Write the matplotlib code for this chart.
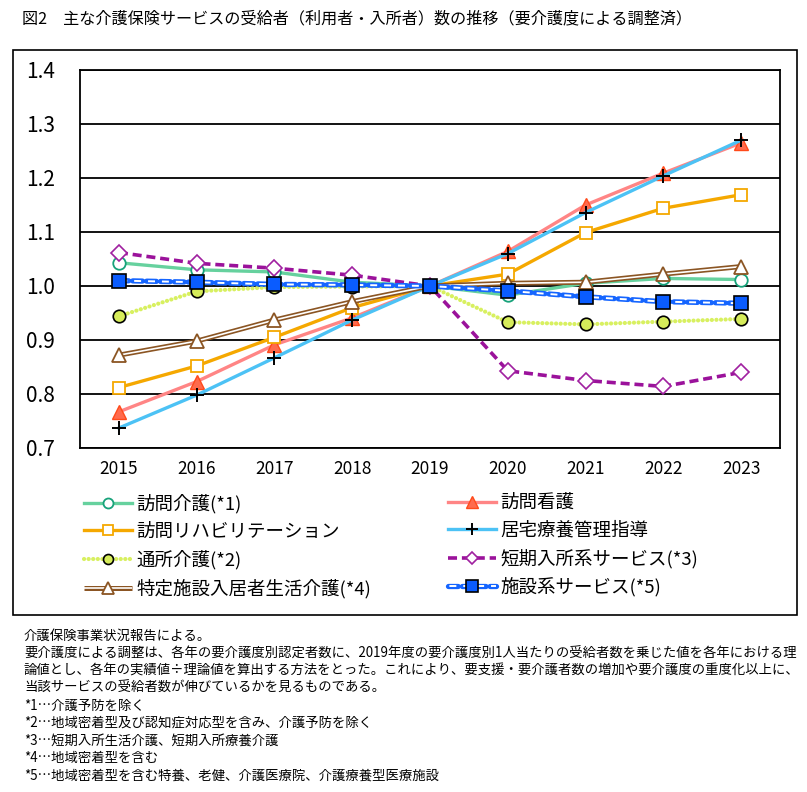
import matplotlib
matplotlib.use("Agg")
import matplotlib.pyplot as plt
from matplotlib.patches import Rectangle
from matplotlib.legend_handler import HandlerTuple

plt.rcParams['font.family'] = ['Noto Sans CJK JP', 'DejaVu Sans']
plt.rcParams['lines.scale_dashes'] = False

# data
years = [2015, 2016, 2017, 2018, 2019, 2020, 2021, 2022, 2023]
houmon_kaigo = [1.043, 1.030, 1.026, 1.007, 1.000, 0.983, 1.005, 1.014, 1.012]
houmon_kango = [0.767, 0.823, 0.891, 0.941, 1.000, 1.064, 1.150, 1.209, 1.265]
houmon_reha = [0.812, 0.852, 0.905, 0.960, 1.000, 1.022, 1.099, 1.144, 1.169]
kyotaku_ryouyou = [0.737, 0.798, 0.867, 0.937, 1.000, 1.060, 1.136, 1.204, 1.270]
tsusho_kaigo = [0.944, 0.990, 0.998, 0.999, 1.000, 0.933, 0.929, 0.934, 0.939]
tanki_nyusho = [1.062, 1.042, 1.033, 1.020, 1.000, 0.843, 0.825, 0.814, 0.840]
tokutei_shisetsu = [0.872, 0.898, 0.937, 0.971, 1.000, 1.005, 1.007, 1.022, 1.036]
shisetsu_kei = [1.010, 1.007, 1.003, 1.002, 1.000, 0.991, 0.980, 0.971, 0.968]

labels = ['訪問介護(*1)', '訪問看護', '訪問リハビリテーション', '居宅療養管理指導',
          '通所介護(*2)', '短期入所系サービス(*3)', '特定施設入居者生活介護(*4)', '施設系サービス(*5)']
yticks = [0.7, 0.8, 0.9, 1.0, 1.1, 1.2, 1.3, 1.4]

title = '図2　主な介護保険サービスの受給者（利用者・入所者）数の推移（要介護度による調整済）'
notes = [
    '介護保険事業状況報告による。',
    '要介護度による調整は、各年の要介護度別認定者数に、2019年度の要介護度別1人当たりの受給者数を乗じた値を各年における理',
    '論値とし、各年の実績値÷理論値を算出する方法をとった。これにより、要支援・要介護者数の増加や要介護度の重度化以上に、',
    '当該サービスの受給者数が伸びているかを見るものである。',
    '*1…介護予防を除く',
    '*2…地域密着型及び認知症対応型を含み、介護予防を除く',
    '*3…短期入所生活介護、短期入所療養介護',
    '*4…地域密着型を含む',
    '*5…地域密着型を含む特養、老健、介護医療院、介護療養型医療施設',
]

W, H = 807, 792
fig = plt.figure(figsize=(W / 100, H / 100), dpi=100)
ax = fig.add_axes([80 / W, 1 - 448 / H, 700 / W, 378 / H])

lw = 2.4
ms = 9
h = {}

h[0] = ax.plot(years, houmon_kaigo, color='#66d19e', lw=lw, marker='o', ms=ms,
               mfc='white', mec='#17a27a', mew=1.3)[0]
h[1] = ax.plot(years, houmon_kango, color='#ff8585', lw=lw, marker='^', ms=ms + 1,
               mfc='#ff6a4d', mec='#ff4a1a', mew=1.0)[0]
h[2] = ax.plot(years, houmon_reha, color='#f5a800', lw=lw, marker='s', ms=ms,
               mfc='white', mec='#f5a800', mew=1.3)[0]
h[3] = ax.plot(years, kyotaku_ryouyou, color='#4cc2f5', lw=lw, marker='+', ms=ms + 1,
               mec='black', mew=1.4)[0]
h[4] = ax.plot(years, tsusho_kaigo, color='#d8f060', lw=3, linestyle=(0, (0.1, 3.2)),
               dash_capstyle='round', marker='o', ms=ms, mfc='#d6ec5a', mec='black', mew=1.2)[0]
h[5] = ax.plot(years, tanki_nyusho, color='#9b129b', lw=2.6, linestyle=(0, (6.5, 3.5)),
               marker='D', ms=ms - 1, mfc='white', mec='#a020a0', mew=1.2)[0]

# double line (brown outline, white centre)
b_out = ax.plot(years, tokutei_shisetsu, color='#8b5523', lw=3.6, solid_capstyle='butt')[0]
b_in = ax.plot(years, tokutei_shisetsu, color='white', lw=1.2, solid_capstyle='butt')[0]
b_mk = ax.plot(years, tokutei_shisetsu, linestyle='none', marker='^', ms=ms + 1,
               mfc='white', mec='#8b5523', mew=1.3)[0]
h[6] = (b_out, b_in, b_mk)

# dashed double line (blue outline, white centre)
s_out = ax.plot(years, shisetsu_kei, color='#1565ff', lw=3.8, linestyle=(0, (7, 3)),
                dash_capstyle='round')[0]
s_in = ax.plot(years, shisetsu_kei, color='white', lw=1.4, linestyle=(-1, (5, 5)),
               dash_capstyle='butt')[0]
s_mk = ax.plot(years, shisetsu_kei, linestyle='none', marker='s', ms=ms + 1,
               mfc='#0a5cff', mec='black', mew=1.2)[0]
h[7] = (s_out, s_in, s_mk)

ax.set_xlim(2014.5, 2023.5)
ax.set_ylim(0.7, 1.4)
ax.set_xticks(years)
ax.set_xticklabels([str(y) for y in years], fontsize=12.5)
ax.set_yticks(yticks)
ax.set_yticklabels(['%.1f' % v for v in yticks], fontsize=15)
ax.tick_params(axis='both', length=0)
ax.tick_params(axis='y', pad=18)
ax.tick_params(axis='x', pad=9)
ax.yaxis.grid(True, color='black', lw=1.3)
ax.set_axisbelow(True)
for sp in ax.spines.values():
    sp.set_linewidth(1.3)

# legend in two columns
leg_kw = dict(frameon=False, fontsize=13.3, handlelength=2.6, handletextpad=0.25,
              labelspacing=0.5, borderaxespad=0, borderpad=0, markerscale=0.8,
              handler_map={tuple: HandlerTuple(ndivide=1)})
col1 = [0, 2, 4, 6]
col2 = [1, 3, 5, 7]
fig.legend([h[i] for i in col1], [labels[i] for i in col1], loc='upper left',
           bbox_to_anchor=(84 / W, 1 - 494 / H), **leg_kw)
fig.legend([h[i] for i in col2], [labels[i] for i in col2], loc='upper left',
           bbox_to_anchor=(448 / W, 1 - 494 / H), **leg_kw)

# outer frame
fig.patches.append(Rectangle((13 / W, 1 - 615 / H), 784 / W, 565 / H, transform=fig.transFigure,
                             fill=False, ec='black', lw=1.2))

fig.text(22 / W, 1 - 19 / H, title, fontsize=11.6, va='center', ha='left')
for i, line in enumerate(notes):
    fig.text(24 / W, 1 - (636 + i * 17.4) / H, line, fontsize=9.6, va='center', ha='left')

fig.savefig('out.png', dpi=100)
